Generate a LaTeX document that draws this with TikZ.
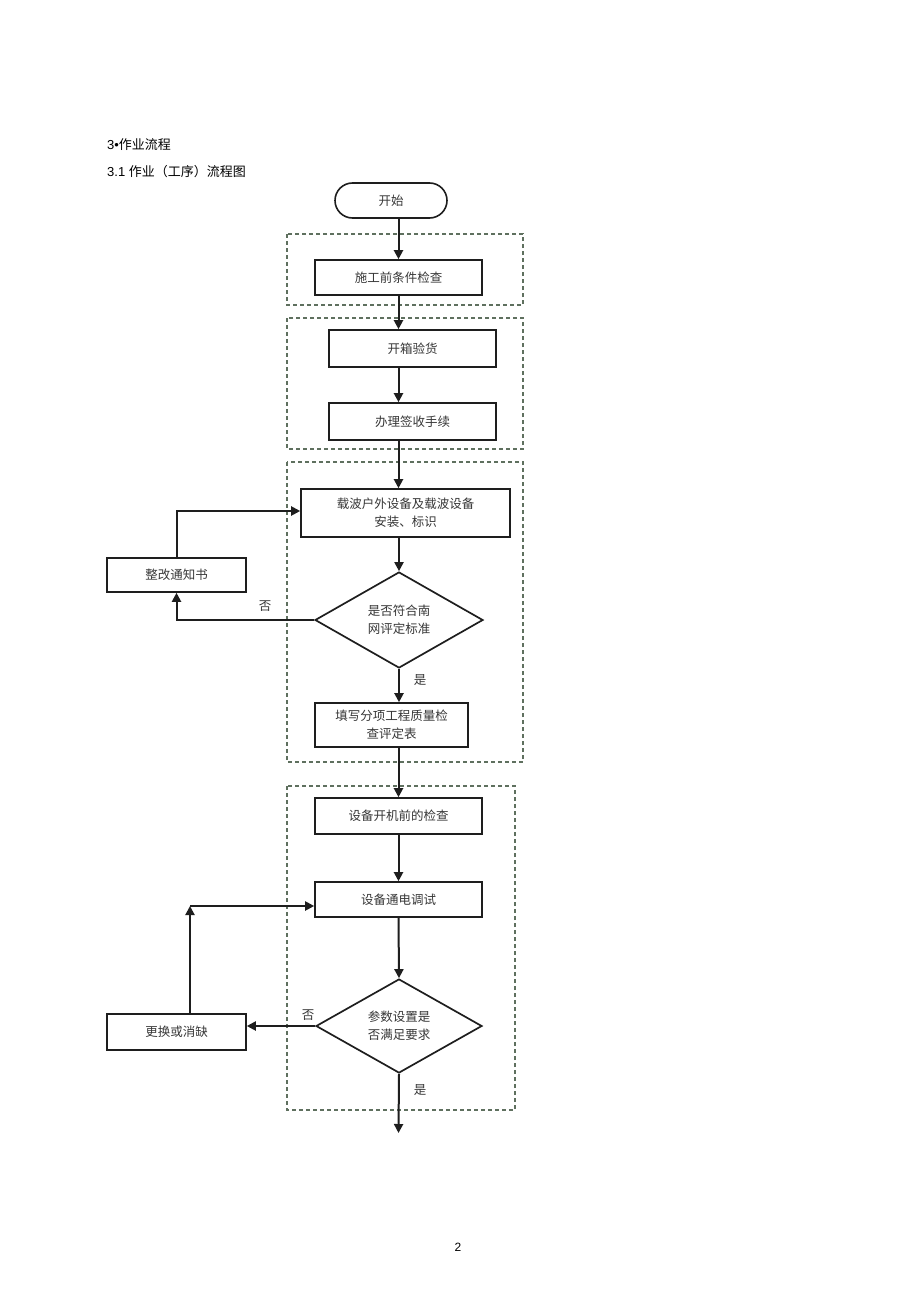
\documentclass[tikz,border=0pt]{standalone}
\usepackage{fontspec}
\setmainfont{Noto Sans CJK SC}
\newfontfamily\cjk{Noto Sans CJK SC}
\newfontfamily\lat{Liberation Sans}
\usetikzlibrary{arrows.meta,shapes.geometric}
\definecolor{grp}{RGB}{95,112,95}
\definecolor{txt}{RGB}{55,55,55}
\definecolor{ln}{RGB}{30,30,30}
\begin{document}
\begin{tikzpicture}[x=1pt,y=-1pt,
  every node/.style={font=\cjk\fontsize{12.5}{18}\selectfont, text=txt},
  box/.style={draw=ln, line width=1.6pt, inner sep=0pt, align=center},
  dia/.style={draw=ln, line width=1.7pt, shape=diamond, inner sep=0pt, aspect=1.75, align=center},
  grpbox/.style={draw=grp, line width=1.2pt, dash pattern=on 4pt off 3pt},
  arr/.style={draw=ln, line width=2pt, -{Triangle[length=9pt,width=9pt]}},
  lab/.style={font=\cjk\fontsize{12.5}{14}\selectfont, text=txt, inner sep=0pt},
  ttl/.style={font=\cjk\fontsize{13}{15}\selectfont, text=black, anchor=west, inner sep=0pt}
]
\useasboundingbox[fill=white] (0,0) rectangle (920,1303);

% titles
\node[ttl] (t1) at (107,145) {{\lat 3•}作业流程};
\node[ttl] (t2) at (107,172) {{\lat 3.1 }作业（工序）流程图};

% dashed groups
\draw[grpbox] (287,234) rectangle (523,305);
\draw[grpbox] (287,318) rectangle (523,449);
\draw[grpbox] (287,462) rectangle (523,762);
\draw[grpbox] (287,786) rectangle (515,1110);

% nodes
\node[box, rounded corners=17.5pt, minimum width=112pt, minimum height=35pt] (start) at (391,200.5) {开始};
\node[box, minimum width=167pt, minimum height=35pt] (b1) at (398.5,277.5) {施工前条件检查};
\node[box, minimum width=167pt, minimum height=37pt] (b2) at (412.5,348.5) {开箱验货};
\node[box, minimum width=167pt, minimum height=37pt] (b3) at (412.5,421.5) {办理签收手续};
\node[box, minimum width=209pt, minimum height=48pt] (b4) at (405.5,513) {载波户外设备及载波设备\\安装、标识};
\node[dia, minimum width=168pt, minimum height=96pt] (d1) at (399,620) {是否符合南\\网评定标准};
\node[box, minimum width=139pt, minimum height=34pt] (fix1) at (176.5,575) {整改通知书};
\node[box, minimum width=153pt, minimum height=44pt] (b5) at (391.5,725) {填写分项工程质量检\\查评定表};
\node[box, minimum width=167pt, minimum height=36pt] (b6) at (398.5,816) {设备开机前的检查};
\node[box, minimum width=167pt, minimum height=35pt] (b7) at (398.5,899.5) {设备通电调试};
\node[dia, minimum width=166pt, minimum height=94pt] (d2) at (399,1026) {参数设置是\\否满足要求};
\node[box, minimum width=139pt, minimum height=36pt] (fix2) at (176.5,1032) {更换或消缺};

\coordinate (c2) at (190,906);
\coordinate (end) at (398.5,1133);

% labels
\node[lab] (no1) at (265,606) {否};
\node[lab] (yes1) at (420,680) {是};
\node[lab] (no2) at (308,1015) {否};
\node[lab] (yes2) at (420,1090) {是};
\node[font=\lat\fontsize{12}{14}\selectfont, text=black, inner sep=0pt] (pg) at (458,1247) {2};

% connectors
\draw[arr] (b1.north |- start.south) -- (b1.north);
\draw[arr] (b1.south) -- (b1.south |- b2.north);
\draw[arr] (b1.south |- b2.south) -- (b1.south |- b3.north);
\draw[arr] (b1.south |- b3.south) -- (b1.south |- b4.north);
\draw[arr] (d1.north |- b4.south) -- (d1.north);
\draw[arr] (d1.south) -- (d1.south |- b5.north);
\draw[arr] (d1.west) -| (fix1.south);
\draw[arr] (fix1.north) |- (fix1.north |- 0,511) -- (b4.west |- 0,511);
\draw[arr] (b6.north |- b5.south) -- (b6.north);
\draw[arr] (b6.south) -- (b7.north);
\draw[arr] (b7.south) -- (d2.north);
\draw[arr] (d2.west) -- (d2.west -| fix2.east);
\draw[arr] (fix2.north -| c2) -- (c2);
\draw[arr] (c2) -- (c2 -| b7.west);
\draw[arr] (d2.south) -- (end);
\end{tikzpicture}
\end{document}
